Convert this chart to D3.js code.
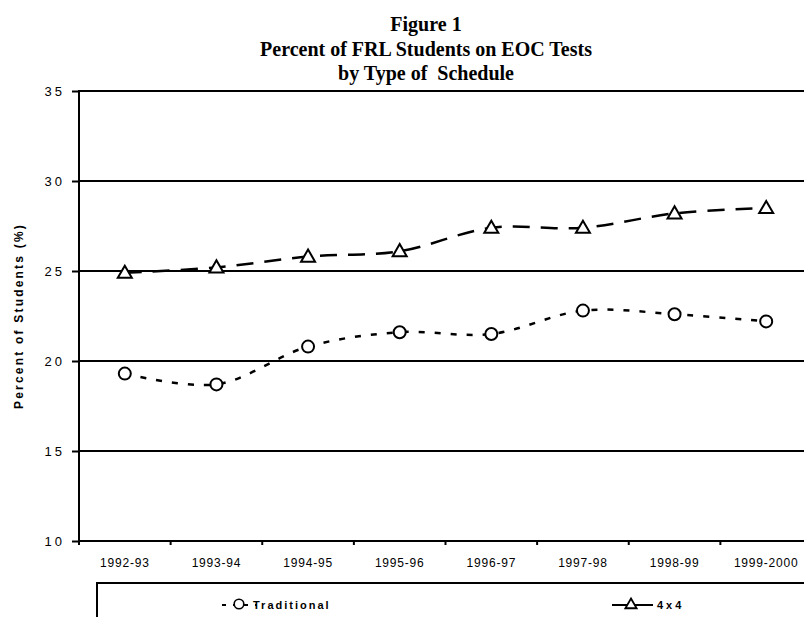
<!DOCTYPE html>
<html>
<head>
<meta charset="UTF-8">
<title>Figure 1</title>
<script src="https://d3js.org/d3.v7.min.js"></script>
<style>
  body { margin: 0; background: #fff; }
  text { font-family: "Liberation Sans", Arial, sans-serif; fill: #000; }
  .title { font-family: "Liberation Serif", "Times New Roman", serif; font-weight: bold; font-size: 20px; white-space: pre; }
</style>
</head>
<body>
<div id="chart"></div>
<script>

var years = ["1992-93", "1993-94", "1994-95", "1995-96", "1996-97", "1997-98", "1998-99", "1999-2000"];
var traditional = [19.3, 18.7, 20.8, 21.6, 21.5, 22.8, 22.6, 22.2];
var fourByFour = [24.9, 25.2, 25.8, 26.1, 27.4, 27.4, 28.2, 28.5];
var yTicks = [10, 15, 20, 25, 30, 35];
var titleLines = ["Figure 1", "Percent of FRL Students on EOC Tests", "by Type of  Schedule"];

var width = 804, height = 617;
var plotLeft = 79, plotRight = 812, plotTop = 91, plotBottom = 541;

var svg = d3.select("#chart")
  .append("svg")
    .attr("width", width)
    .attr("height", height);

var x = d3.scaleBand().domain(years).range([plotLeft, plotRight]);
var y = d3.scaleLinear().domain([10, 35]).range([plotBottom, plotTop]);

// title
svg.selectAll(".title")
  .data(titleLines)
  .enter().append("text")
    .attr("class", "title")
    .attr("x", 426)
    .attr("y", function(d, i) { return 31 + i * 24.5; })
    .attr("text-anchor", "middle")
    .text(function(d) { return d; });

// gridlines
svg.selectAll(".grid")
  .data(yTicks.slice(1))
  .enter().append("line")
    .attr("x1", plotLeft).attr("x2", plotRight)
    .attr("y1", function(d) { return y(d); })
    .attr("y2", function(d) { return y(d); })
    .attr("stroke", "#000")
    .attr("stroke-width", 2.2);

// y axis
var yAxis = svg.append("g")
  .attr("transform", "translate(" + plotLeft + ",0)")
  .call(d3.axisLeft(y).tickValues(yTicks).tickSize(7).tickPadding(7).tickFormat(d3.format("d")));
yAxis.select(".domain").remove();
yAxis.selectAll(".tick line").attr("stroke-width", 2);
yAxis.selectAll("text")
  .attr("font-size", 13)
  .style("letter-spacing", "3px");

svg.append("line")
  .attr("x1", plotLeft).attr("x2", plotLeft)
  .attr("y1", plotTop - 1).attr("y2", plotBottom + 4)
  .attr("stroke", "#000")
  .attr("stroke-width", 2);

// x axis
svg.append("line")
  .attr("x1", plotLeft).attr("x2", plotRight)
  .attr("y1", plotBottom).attr("y2", plotBottom)
  .attr("stroke", "#000")
  .attr("stroke-width", 2.2);

svg.selectAll(".xtick")
  .data(years.slice(1))
  .enter().append("line")
    .attr("x1", function(d) { return x(d); })
    .attr("x2", function(d) { return x(d); })
    .attr("y1", plotBottom).attr("y2", plotBottom + 4)
    .attr("stroke", "#000")
    .attr("stroke-width", 2);

var xAxis = svg.append("g")
  .attr("transform", "translate(0," + plotBottom + ")")
  .call(d3.axisBottom(x).tickSize(0).tickPadding(17.5));
xAxis.select(".domain").remove();
xAxis.selectAll("text")
  .attr("font-size", 12)
  .style("letter-spacing", "0.8px");

// y axis title
svg.append("text")
  .attr("transform", "translate(19," + (plotTop + plotBottom) / 2 + ") rotate(-90)")
  .attr("text-anchor", "middle")
  .attr("dominant-baseline", "central")
  .attr("font-size", 12)
  .attr("font-weight", "bold")
  .style("letter-spacing", "2.2px")
  .text("Percent of Students (%)");

// lines
function px(d, i) { return x(years[i]) + x.bandwidth() / 2; }

var line = d3.line()
  .x(px)
  .y(function(d) { return y(d); })
  .curve(d3.curveCatmullRom.alpha(0.5));

svg.append("path")
  .datum(traditional)
  .attr("d", line)
  .attr("fill", "none")
  .attr("stroke", "#000")
  .attr("stroke-width", 2.5)
  .attr("stroke-dasharray", "6,10");

svg.append("path")
  .datum(fourByFour)
  .attr("d", line)
  .attr("fill", "none")
  .attr("stroke", "#000")
  .attr("stroke-width", 2.5)
  .attr("stroke-dasharray", "17,11");

// markers
var tri = d3.symbol().type(d3.symbolTriangle).size(85);

svg.selectAll(".circ")
  .data(traditional)
  .enter().append("circle")
    .attr("cx", px)
    .attr("cy", function(d) { return y(d); })
    .attr("r", 6)
    .attr("fill", "#fff")
    .attr("stroke", "#000")
    .attr("stroke-width", 2);

svg.selectAll(".tri")
  .data(fourByFour)
  .enter().append("path")
    .attr("d", tri)
    .attr("transform", function(d, i) { return "translate(" + px(d, i) + "," + (y(d) + 1) + ")"; })
    .attr("fill", "#fff")
    .attr("stroke", "#000")
    .attr("stroke-width", 2);

// legend
var legend = svg.append("g");
legend.append("rect")
  .attr("x", 97).attr("y", 583)
  .attr("width", 800).attr("height", 100)
  .attr("fill", "none")
  .attr("stroke", "#000")
  .attr("stroke-width", 2);

legend.append("line")
  .attr("x1", 222).attr("x2", 257)
  .attr("y1", 605).attr("y2", 605)
  .attr("stroke", "#000")
  .attr("stroke-width", 2)
  .attr("stroke-dasharray", "4,7");
legend.append("circle")
  .attr("cx", 239).attr("cy", 604)
  .attr("r", 4.8)
  .attr("fill", "#fff")
  .attr("stroke", "#000")
  .attr("stroke-width", 1.6);
legend.append("text")
  .attr("x", 253).attr("y", 609)
  .attr("font-size", 11)
  .attr("font-weight", "bold")
  .style("letter-spacing", "2px")
  .text("Traditional");

legend.append("line")
  .attr("x1", 612).attr("x2", 653)
  .attr("y1", 605).attr("y2", 605)
  .attr("stroke", "#000")
  .attr("stroke-width", 2);
legend.append("path")
  .attr("d", d3.symbol().type(d3.symbolTriangle).size(55))
  .attr("transform", "translate(631,605)")
  .attr("fill", "#fff")
  .attr("stroke", "#000")
  .attr("stroke-width", 1.8);
legend.append("text")
  .attr("x", 657).attr("y", 609)
  .attr("font-size", 11)
  .attr("font-weight", "bold")
  .style("letter-spacing", "3px")
  .text("4x4");

</script>
</body>
</html>
